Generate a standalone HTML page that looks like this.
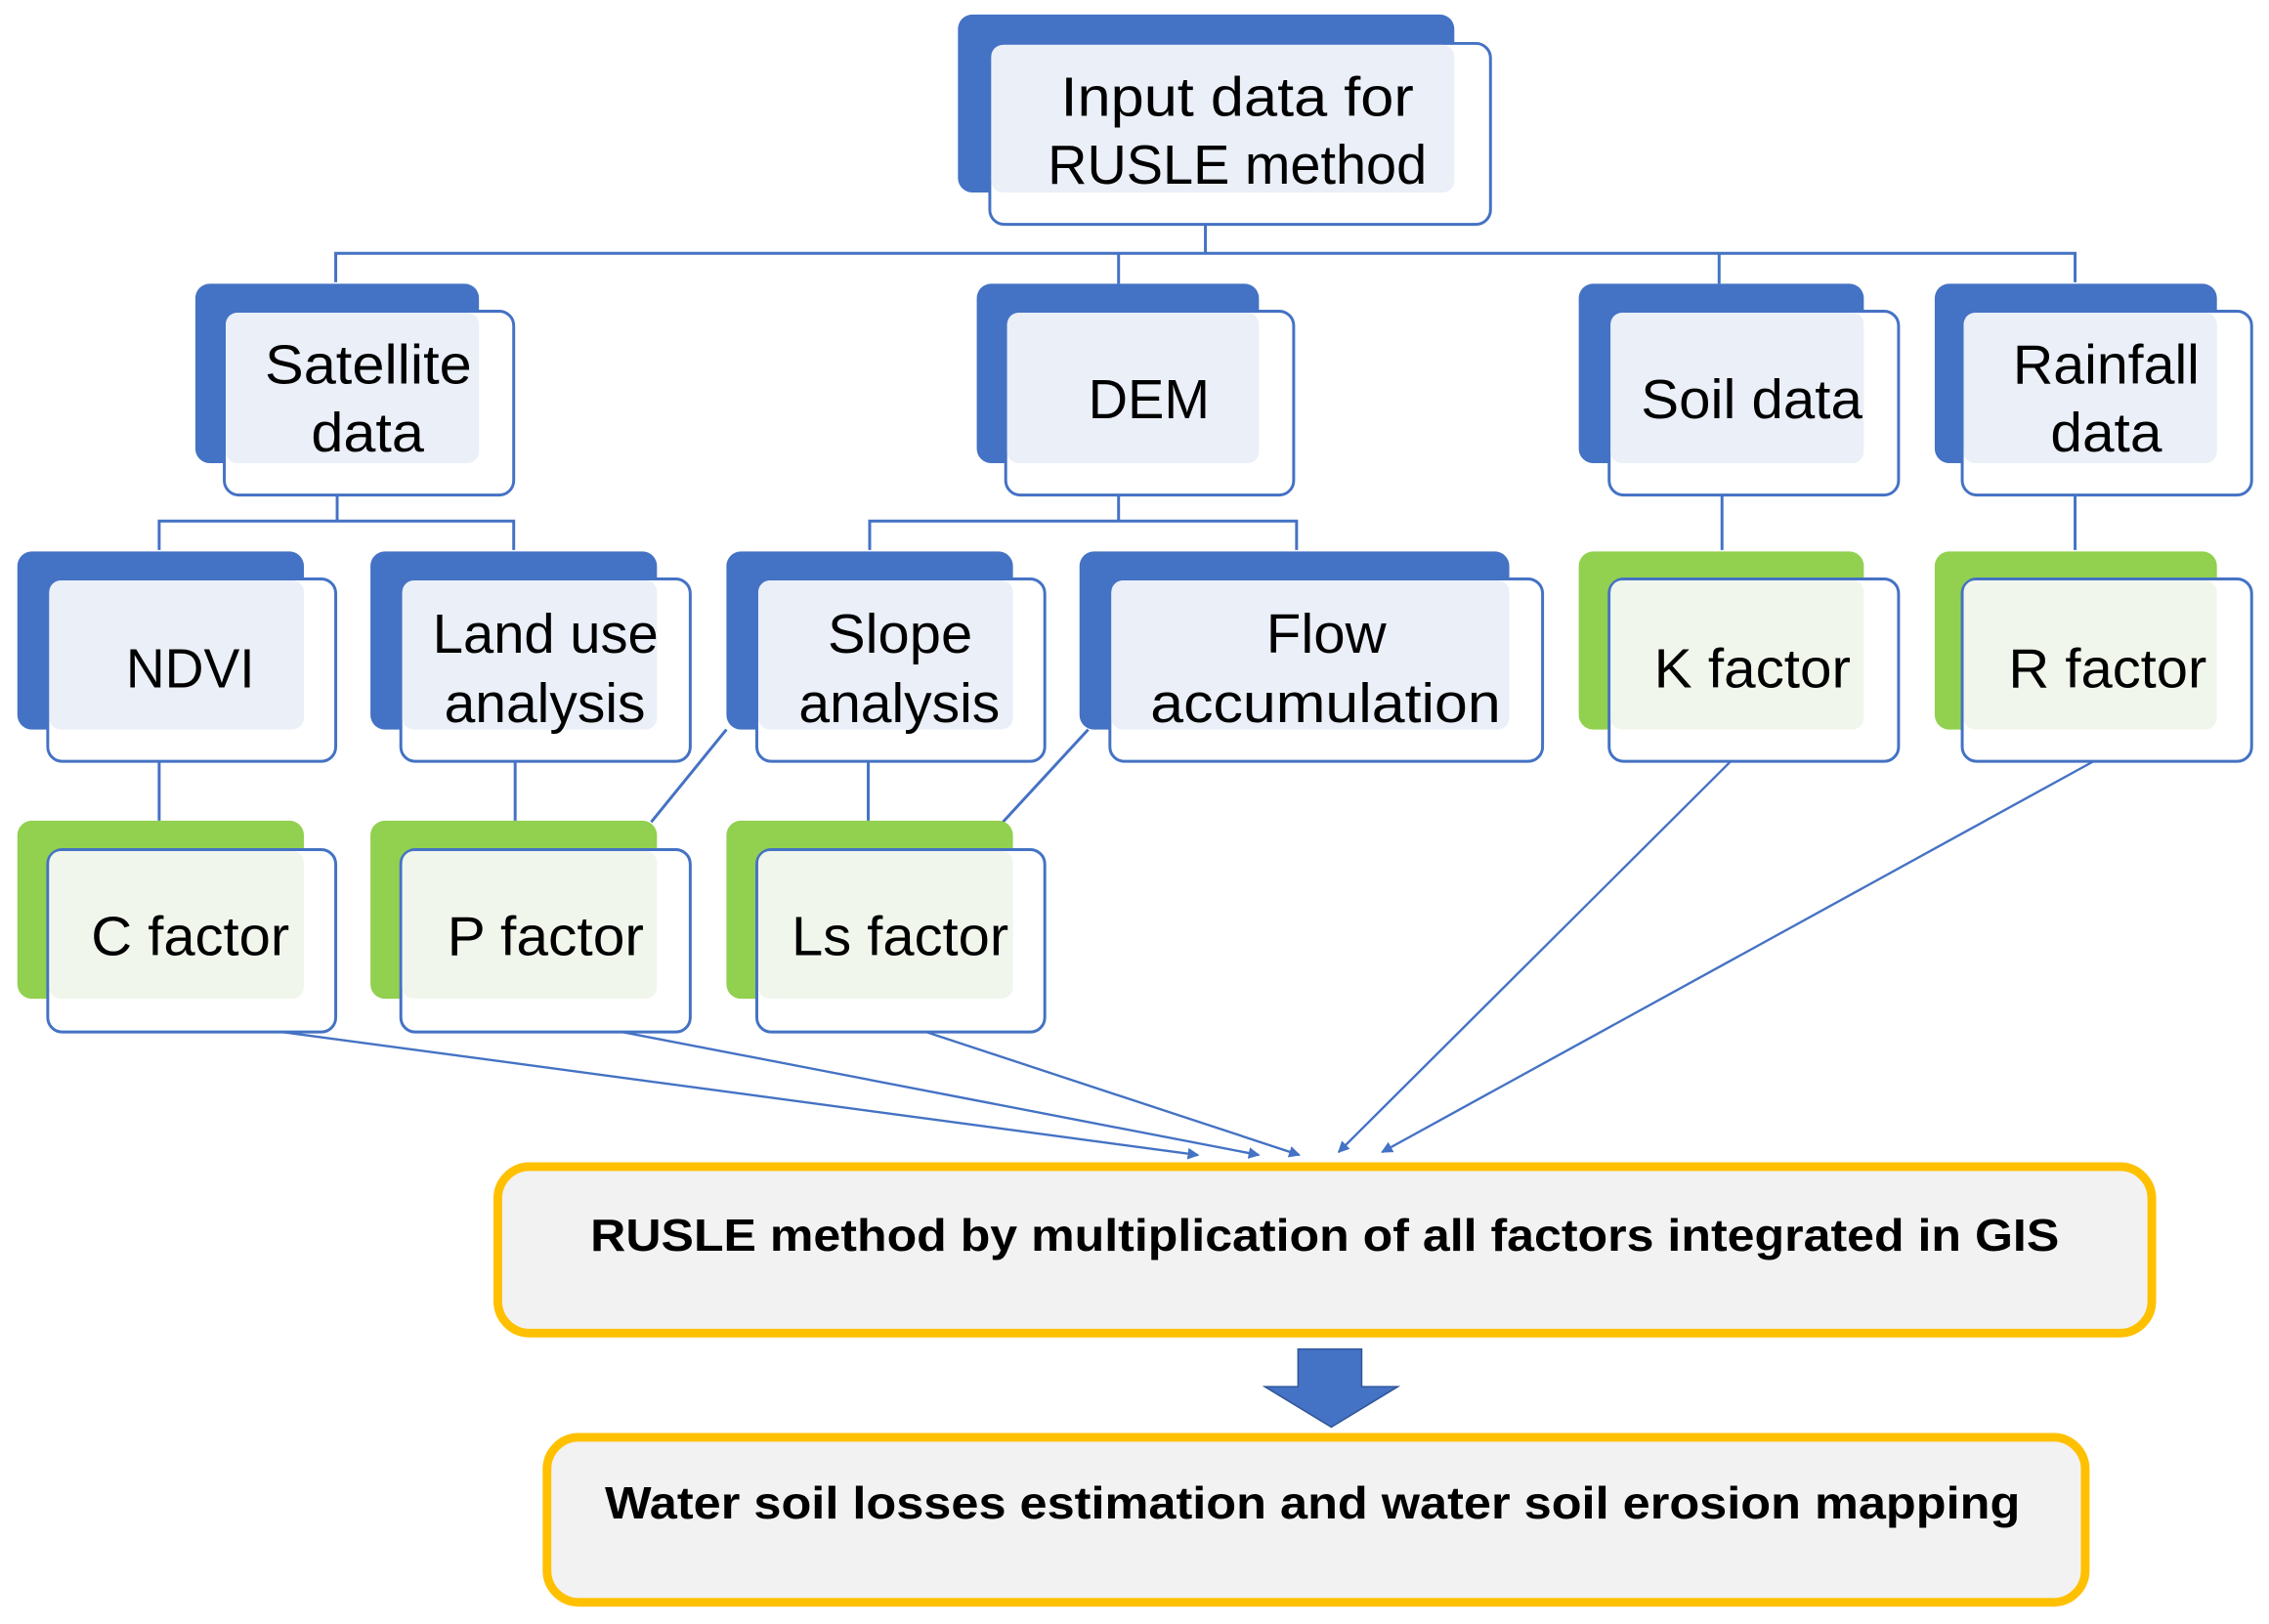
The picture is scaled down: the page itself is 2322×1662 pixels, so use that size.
<!DOCTYPE html>
<html><head><meta charset="utf-8"><style>
html,body{margin:0;padding:0;background:#fff;}
svg{display:block;}
text{font-family:"Liberation Sans",sans-serif;fill:#000;}
</style></head><body>
<svg width="2322" height="1662" viewBox="0 0 1568 1122" preserveAspectRatio="none" xmlns="http://www.w3.org/2000/svg">
<defs>
<marker id="ah" viewBox="0 0 10 10" refX="9" refY="5" markerWidth="5" markerHeight="5" orient="auto"><path d="M0,0 L10,5 L0,10 z" fill="#4472c4"/></marker>
</defs>
<g stroke="#4472c4" stroke-width="2" fill="none">
<path d="M833,133 V175 M232,195 V175 H1434 V195 M773,175 V196 M1188,175 V196"/>
<path d="M233,320 V360 M110,380 V360 H355 V380"/>
<path d="M773,320 V360 M601,380 V360 H896 V380"/>
<path d="M1190,320 V380 M1434,320 V380"/>
<path d="M110,504 V567 M356,504 V567 M600,504 V567"/>
<path d="M502,504 L450,568 M752,504 L693,568"/>
</g>
<g stroke="#4472c4" stroke-width="1.6" fill="none" marker-end="url(#ah)">
<line x1="195" y1="713" x2="828" y2="798"/>
<line x1="430" y1="713" x2="870" y2="798"/>
<line x1="640" y1="713" x2="898" y2="798"/>
<line x1="1196" y1="526" x2="925" y2="796"/>
<line x1="1454" y1="522" x2="955" y2="796"/>
</g>
<!-- node template: back, front, overlap -->
<g id="nodes">
<!-- top -->
<rect x="662" y="10" width="343" height="123" rx="10" fill="#4472c4"/>
<rect x="684" y="30" width="346" height="125" rx="10" fill="#fff" stroke="#4472c4" stroke-width="2"/>
<rect x="685" y="31" width="320" height="102" rx="8" fill="#eaeff8"/>
<!-- row2 -->
<rect x="135" y="196" width="196" height="124" rx="10" fill="#4472c4"/>
<rect x="155" y="215" width="200" height="127" rx="10" fill="#fff" stroke="#4472c4" stroke-width="2"/>
<rect x="156" y="216" width="175" height="104" rx="8" fill="#eaeff8"/>
<rect x="675" y="196" width="195" height="124" rx="10" fill="#4472c4"/>
<rect x="695" y="215" width="199" height="127" rx="10" fill="#fff" stroke="#4472c4" stroke-width="2"/>
<rect x="696" y="216" width="174" height="104" rx="8" fill="#eaeff8"/>
<rect x="1091" y="196" width="197" height="124" rx="10" fill="#4472c4"/>
<rect x="1112" y="215" width="200" height="127" rx="10" fill="#fff" stroke="#4472c4" stroke-width="2"/>
<rect x="1113" y="216" width="175" height="104" rx="8" fill="#eaeff8"/>
<rect x="1337" y="196" width="195" height="124" rx="10" fill="#4472c4"/>
<rect x="1356" y="215" width="200" height="127" rx="10" fill="#fff" stroke="#4472c4" stroke-width="2"/>
<rect x="1357" y="216" width="175" height="104" rx="8" fill="#eaeff8"/>
<!-- row3 -->
<rect x="12" y="381" width="198" height="123" rx="10" fill="#4472c4"/>
<rect x="33" y="400" width="199" height="126" rx="10" fill="#fff" stroke="#4472c4" stroke-width="2"/>
<rect x="34" y="401" width="176" height="103" rx="8" fill="#eaeff8"/>
<rect x="256" y="381" width="198" height="123" rx="10" fill="#4472c4"/>
<rect x="277" y="400" width="200" height="126" rx="10" fill="#fff" stroke="#4472c4" stroke-width="2"/>
<rect x="278" y="401" width="176" height="103" rx="8" fill="#eaeff8"/>
<rect x="502" y="381" width="198" height="123" rx="10" fill="#4472c4"/>
<rect x="523" y="400" width="199" height="126" rx="10" fill="#fff" stroke="#4472c4" stroke-width="2"/>
<rect x="524" y="401" width="176" height="103" rx="8" fill="#eaeff8"/>
<rect x="746" y="381" width="297" height="123" rx="10" fill="#4472c4"/>
<rect x="767" y="400" width="299" height="126" rx="10" fill="#fff" stroke="#4472c4" stroke-width="2"/>
<rect x="768" y="401" width="275" height="103" rx="8" fill="#eaeff8"/>
<rect x="1091" y="381" width="197" height="123" rx="10" fill="#92d050"/>
<rect x="1112" y="400" width="200" height="126" rx="10" fill="#fff" stroke="#4472c4" stroke-width="2"/>
<rect x="1113" y="401" width="175" height="103" rx="8" fill="#f1f6ec"/>
<rect x="1337" y="381" width="195" height="123" rx="10" fill="#92d050"/>
<rect x="1356" y="400" width="200" height="126" rx="10" fill="#fff" stroke="#4472c4" stroke-width="2"/>
<rect x="1357" y="401" width="175" height="103" rx="8" fill="#f1f6ec"/>
<!-- row4 -->
<rect x="12" y="567" width="198" height="123" rx="10" fill="#92d050"/>
<rect x="33" y="587" width="199" height="126" rx="10" fill="#fff" stroke="#4472c4" stroke-width="2"/>
<rect x="34" y="588" width="176" height="102" rx="8" fill="#f1f6ec"/>
<rect x="256" y="567" width="198" height="123" rx="10" fill="#92d050"/>
<rect x="277" y="587" width="200" height="126" rx="10" fill="#fff" stroke="#4472c4" stroke-width="2"/>
<rect x="278" y="588" width="176" height="102" rx="8" fill="#f1f6ec"/>
<rect x="502" y="567" width="198" height="123" rx="10" fill="#92d050"/>
<rect x="523" y="587" width="199" height="126" rx="10" fill="#fff" stroke="#4472c4" stroke-width="2"/>
<rect x="524" y="588" width="176" height="102" rx="8" fill="#f1f6ec"/>
</g>
<g font-size="38" lengthAdjust="spacingAndGlyphs">
<text x="733" y="80" textLength="244" lengthAdjust="spacingAndGlyphs">Input data for</text>
<text x="724" y="127" textLength="262" lengthAdjust="spacingAndGlyphs">RUSLE method</text>
<text x="183" y="265" textLength="143" lengthAdjust="spacingAndGlyphs">Satellite</text>
<text x="215" y="312" textLength="78" lengthAdjust="spacingAndGlyphs">data</text>
<text x="752" y="289" textLength="84" lengthAdjust="spacingAndGlyphs">DEM</text>
<text x="1134" y="289" textLength="153" lengthAdjust="spacingAndGlyphs">Soil data</text>
<text x="1391" y="265" textLength="129" lengthAdjust="spacingAndGlyphs">Rainfall</text>
<text x="1417" y="312" textLength="77" lengthAdjust="spacingAndGlyphs">data</text>
<text x="87" y="475" textLength="89" lengthAdjust="spacingAndGlyphs">NDVI</text>
<text x="299" y="451" textLength="156" lengthAdjust="spacingAndGlyphs">Land use</text>
<text x="307" y="499" textLength="139" lengthAdjust="spacingAndGlyphs">analysis</text>
<text x="572" y="451" textLength="100" lengthAdjust="spacingAndGlyphs">Slope</text>
<text x="552" y="499" textLength="139" lengthAdjust="spacingAndGlyphs">analysis</text>
<text x="875" y="451" textLength="83" lengthAdjust="spacingAndGlyphs">Flow</text>
<text x="795" y="499" textLength="242" lengthAdjust="spacingAndGlyphs">accumulation</text>
<text x="1143" y="475" textLength="136" lengthAdjust="spacingAndGlyphs">K factor</text>
<text x="1388" y="475" textLength="137" lengthAdjust="spacingAndGlyphs">R factor</text>
<text x="63" y="660" textLength="137" lengthAdjust="spacingAndGlyphs">C factor</text>
<text x="309" y="660" textLength="136" lengthAdjust="spacingAndGlyphs">P factor</text>
<text x="547" y="660" textLength="150" lengthAdjust="spacingAndGlyphs">Ls factor</text>
</g>
<rect x="344" y="806" width="1143" height="115" rx="22" fill="#f2f2f2" stroke="#ffc000" stroke-width="6"/>
<text x="408" y="864" font-size="31" font-weight="bold" textLength="1015" lengthAdjust="spacingAndGlyphs">RUSLE method by multiplication of all factors integrated in GIS</text>
<path d="M897,932 H941 V958 H966 L920,986 L874,958 H897 Z" fill="#4472c4" stroke="#2f5597" stroke-width="1"/>
<rect x="378" y="993" width="1063" height="114" rx="22" fill="#f2f2f2" stroke="#ffc000" stroke-width="6"/>
<text x="418" y="1049" font-size="31" font-weight="bold" textLength="978" lengthAdjust="spacingAndGlyphs">Water soil losses estimation and water soil erosion mapping</text>
</svg>
</body></html>
